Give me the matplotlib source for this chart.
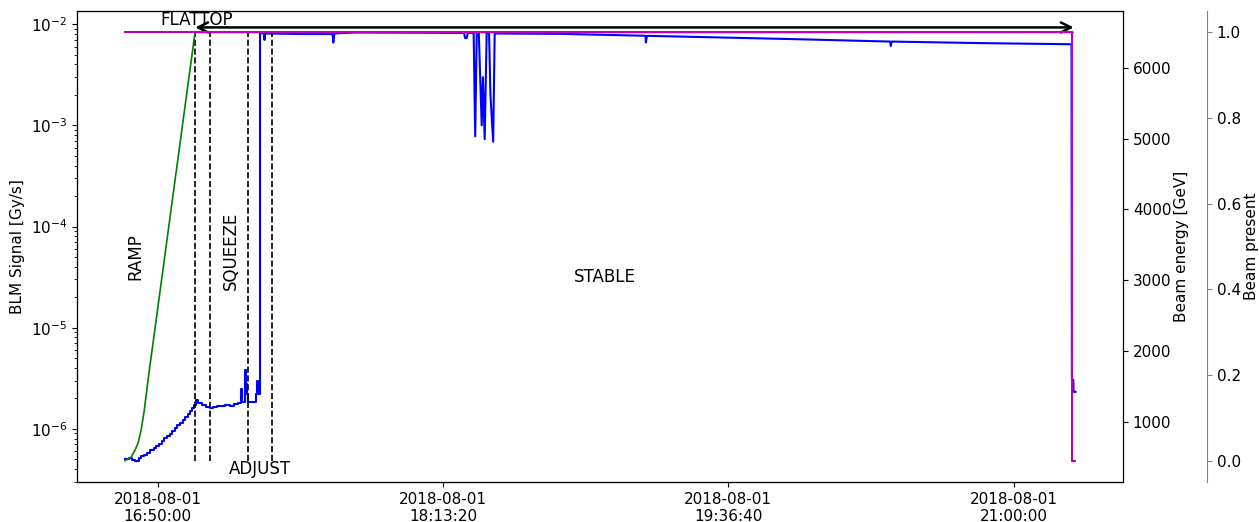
import numpy as np
import pandas as pd
import matplotlib
matplotlib.use("Agg")
import matplotlib.pyplot as plt
import matplotlib.dates as mdates

# Reference time; every series below is given in minutes after it
t_ref = pd.Timestamp("2018-08-01 16:50:00")

# BLM signal [Gy/s] during injection, ramp, flattop, squeeze and adjust (stepped log)
blm_ramp_min = [-9.63, -8.31, -7.44, -6.56, -5.54, -4.81, -3.94, -3.06, -2.19, -1.17,
                -0.44, 0.44, 1.17, 1.90, 2.77, 3.50, 4.23, 4.96, 5.69, 6.42,
                7.29, 8.02, 8.75, 9.48, 10.06, 10.65, 11.08, 11.81, 12.98, 14.15,
                15.31, 16.19, 17.35, 18.52, 19.69, 21.15, 22.31, 23.48, 24.50, 24.79,
                25.67, 25.96, 26.25, 26.54, 28.88, 29.17, 29.46, 30.04]
blm_ramp_val = [5.05e-7, 5.15e-7, 4.9e-7, 4.85e-7, 5.2e-7, 5.35e-7, 5.55e-7, 5.8e-7, 6.2e-7, 6.45e-7,
                6.7e-7, 7.1e-7, 7.5e-7, 8.1e-7, 8.5e-7, 8.9e-7, 9.6e-7, 1.02e-6, 1.08e-6, 1.14e-6,
                1.23e-6, 1.31e-6, 1.41e-6, 1.5e-6, 1.6e-6, 1.73e-6, 1.91e-6, 1.8e-6, 1.72e-6, 1.66e-6,
                1.62e-6, 1.66e-6, 1.70e-6, 1.68e-6, 1.71e-6, 1.70e-6, 1.76e-6, 1.82e-6, 2.5e-6, 1.84e-6,
                3.8e-6, 2.8e-6, 2.2e-6, 1.86e-6, 2.2e-6, 3.0e-6, 2.2e-6, 8.2e-3]

# BLM signal [Gy/s] during stable beams and the dump
blm_stable_min = [30.04, 31.0, 31.21, 31.45, 41.85, 51.1, 51.33, 51.6, 57.9, 76.85,
                  89.5, 89.8, 90.27, 90.56, 92.3, 92.75, 93.2, 93.8, 94.65, 95.0,
                  95.52, 96.1, 96.8, 97.2, 98.0, 98.44, 117.69, 142.48, 142.6, 142.9,
                  164.35, 187.69, 213.94, 214.1, 214.4, 240.19, 266.88, 267.0, 267.4, 267.5,
                  268.04]
blm_stable_val = [8.2e-3, 8.1e-3, 7.0e-3, 8.1e-3, 8.0e-3, 8.0e-3, 6.6e-3, 8.1e-3, 8.3e-3, 8.25e-3,
                  8.2e-3, 7.3e-3, 7.3e-3, 8.2e-3, 8.2e-3, 7.8e-4, 8.2e-3, 8.2e-3, 1.0e-3, 3.0e-3,
                  7.3e-4, 8.2e-3, 8.2e-3, 2.0e-3, 6.9e-4, 8.1e-3, 8.03e-3, 7.69e-3, 6.6e-3, 7.68e-3,
                  7.40e-3, 7.10e-3, 6.74e-3, 6.1e-3, 6.74e-3, 6.51e-3, 6.34e-3, 3.05e-6, 3.05e-6, 2.32e-6,
                  2.32e-6]

# Beam energy [GeV]
energy_min = [-9.48, -7.73, -6.56, -5.69, -4.81, -3.94, -2.48, 1.02, 5.40, 10.94, 267.3]
energy_val = [450, 500, 600, 700, 880, 1140, 1700, 2950, 4520, 6500, 6500]

# Beam present flag
beam_min = [-9.48, 267.1, 268.04]
beam_val = [1, 0, 0]

# Beam mode boundaries: FLATTOP, SQUEEZE, ADJUST, STABLE
mode_min = [11.0, 15.40, 26.40, 33.31]

tick_labels = ["2018-08-01 16:50:00", "2018-08-01 18:13:20",
               "2018-08-01 19:36:40", "2018-08-01 21:00:00"]


def to_time(minutes):
    return t_ref + pd.to_timedelta(np.asarray(minutes, dtype=float), unit="m")


plt.rcParams["font.family"] = "DejaVu Sans"
plt.rcParams["font.size"] = 11

fig = plt.figure(figsize=(12.59, 5.22), dpi=100)
ax = fig.add_axes([0.0612, 0.0766, 0.8308, 0.9023])

ax.plot(to_time(blm_ramp_min), blm_ramp_val, color="blue", lw=1.5, drawstyle="steps-post")
ax.plot(to_time(blm_stable_min), blm_stable_val, color="blue", lw=1.5)
ax.set_yscale("log")
ax.set_ylabel("BLM Signal [Gy/s]")

all_blm = blm_ramp_val + blm_stable_val
ymin, ymax = min(all_blm), max(all_blm)
for t in to_time(mode_min):
    ax.vlines(t, ymin, ymax, colors="black", linestyles="dashed", lw=1.2)

ax2 = ax.twinx()
ax2.plot(to_time(energy_min), energy_val, color="green", lw=1.2)
ax2.set_ylabel("Beam energy [GeV]", labelpad=2)

ax3 = ax.twinx()
ax3.spines["right"].set_position(("axes", 1.0803))
ax3.spines["right"].set_color("0.5")
ax3.tick_params(axis="y", colors="0.5", labelcolor="black")
ax3.plot(to_time(beam_min), beam_val, color="m", lw=1.5, drawstyle="steps-post")
ax3.set_ylabel("Beam present", labelpad=2)

ax.set_xticks(pd.to_datetime(tick_labels))
ax.xaxis.set_major_formatter(mdates.DateFormatter("%Y-%m-%d\n%H:%M:%S"))

# Beam mode annotations
ax.annotate("", xy=(to_time(267.5), 9.3e-3), xytext=(to_time(11.0), 9.3e-3),
            arrowprops=dict(arrowstyle="<->", lw=1.8, color="black",
                            shrinkA=0, shrinkB=0, mutation_scale=18))
ax.text(to_time(11.4), 1.1e-2, "FLATTOP", fontsize=12, ha="center", va="center")
ax.text(to_time(-6.42), 5.0e-5, "RAMP", fontsize=12, rotation=90, ha="center", va="center")
ax.text(to_time(21.3), 5.8e-5, "SQUEEZE", fontsize=12, rotation=90, ha="center", va="center")
ax.text(to_time(29.8), 4.0e-7, "ADJUST", fontsize=12, ha="center", va="center")
ax.text(to_time(130.5), 3.2e-5, "STABLE", fontsize=12, ha="center", va="center")

fig.savefig("out.png", dpi=100)
